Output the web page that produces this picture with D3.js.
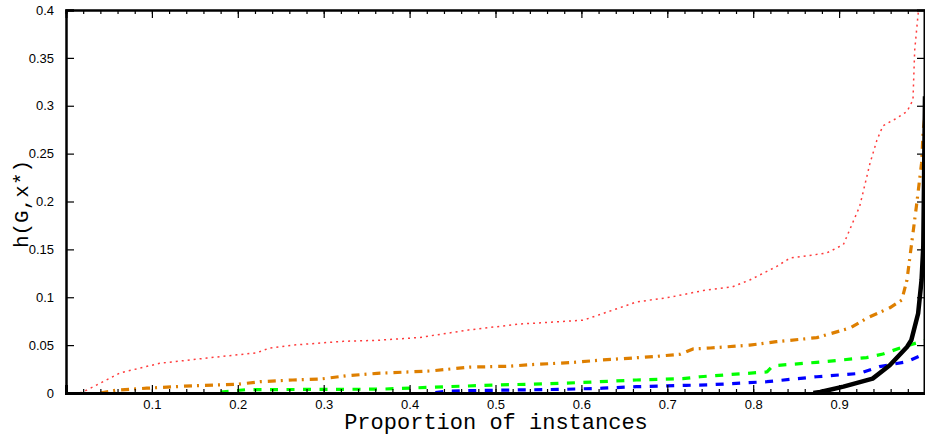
<!DOCTYPE html>
<html>
<head>
<meta charset="utf-8">
<script src="https://d3js.org/d3.v7.min.js"></script>
<style>
  body { margin: 0; background: #fff; }
  svg { display: block; }
</style>
</head>
<body>
<svg id="chart" width="925" height="438"></svg>
<script>
// values
var redX = [0.016, 0.024, 0.063, 0.109, 0.164, 0.222, 0.237, 0.264, 0.323, 0.362, 0.412, 0.470, 0.528, 0.602, 0.625, 0.664, 0.703, 0.742, 0.776, 0.796, 0.827, 0.843, 0.885, 0.905, 0.924, 0.936, 0.944, 0.951, 0.967, 0.979, 0.986, 0.988, 0.992, 0.995];
var redY = [0, 0.003, 0.021, 0.031, 0.0365, 0.042, 0.047, 0.050, 0.054, 0.055, 0.058, 0.066, 0.072, 0.076, 0.083, 0.095, 0.100, 0.107, 0.111, 0.118, 0.132, 0.141, 0.146, 0.155, 0.195, 0.240, 0.264, 0.279, 0.287, 0.294, 0.306, 0.358, 0.396, 0.42];

var orangeX = [0.04, 0.059, 0.094, 0.148, 0.199, 0.226, 0.264, 0.296, 0.327, 0.362, 0.424, 0.470, 0.517, 0.540, 0.587, 0.625, 0.684, 0.715, 0.730, 0.750, 0.796, 0.827, 0.874, 0.913, 0.932, 0.959, 0.973, 0.979, 0.984, 0.990, 0.996, 0.998, 1.0];
var orangeY = [0, 0.003, 0.005, 0.0076, 0.009, 0.0118, 0.0136, 0.0146, 0.018, 0.0205, 0.023, 0.027, 0.028, 0.0296, 0.0317, 0.0345, 0.038, 0.0405, 0.046, 0.047, 0.050, 0.0536, 0.0578, 0.068, 0.078, 0.089, 0.097, 0.118, 0.153, 0.195, 0.240, 0.275, 0.29];

var greenX = [0.18, 0.21, 0.366, 0.443, 0.501, 0.560, 0.602, 0.664, 0.718, 0.738, 0.816, 0.823, 0.874, 0.932, 0.951, 0.971, 1.0];
var greenY = [0.001, 0.0035, 0.004, 0.0066, 0.0083, 0.0097, 0.011, 0.0136, 0.015, 0.017, 0.022, 0.0285, 0.032, 0.037, 0.0407, 0.047, 0.055];

var blueX = [0.43, 0.443, 0.509, 0.579, 0.625, 0.664, 0.722, 0.750, 0.816, 0.874, 0.924, 0.947, 0.979, 1.0];
var blueY = [0.0005, 0.002, 0.003, 0.0038, 0.005, 0.0066, 0.008, 0.0086, 0.0118, 0.017, 0.0205, 0.0275, 0.0327, 0.041];

var blackX = [0.87, 0.878, 0.905, 0.939, 0.959, 0.979, 0.984, 0.992, 0.996, 0.998, 1.0];
var blackY = [0, 0.001, 0.0066, 0.015, 0.029, 0.048, 0.055, 0.083, 0.118, 0.153, 0.31];

var xTicks = [0.1, 0.2, 0.3, 0.4, 0.5, 0.6, 0.7, 0.8, 0.9];
var xMinor = d3.range(0, 51).map(function(i) { return i / 50; });
var yTicks = [0, 0.05, 0.1, 0.15, 0.2, 0.25, 0.3, 0.35, 0.4];

(function() {
var svg = d3.select("#chart");
var pLeft = 66, pRight = 925, pTop = 10, pBottom = 393;

var x = d3.scaleLinear().domain([0, 1]).range([pLeft, pRight]);
var y = d3.scaleLinear().domain([0, 0.4]).range([pBottom, pTop]);

svg.append("defs").append("clipPath").attr("id", "plotclip")
  .append("rect")
  .attr("x", pLeft).attr("y", pTop)
  .attr("width", pRight - pLeft).attr("height", pBottom - pTop);

var series = [
  {xs: redX, ys: redY, color: "#ff3b3b", width: 1.5, dash: "2,4"},
  {xs: orangeX, ys: orangeY, color: "#de7f00", width: 3.2, dash: "8,5,2,6"},
  {xs: greenX, ys: greenY, color: "#00ff00", width: 3.2, dash: "8,8.5"},
  {xs: blueX, ys: blueY, color: "#0000ff", width: 3.2, dash: "8,8.5"},
  {xs: blackX, ys: blackY, color: "#000000", width: 4.5, dash: null}
];

var line = d3.line()
  .x(function(d) { return x(d[0]); })
  .y(function(d) { return y(d[1]); });

var g = svg.append("g").attr("clip-path", "url(#plotclip)");
series.forEach(function(s) {
  var pts = s.xs.map(function(v, i) { return [v, s.ys[i]]; });
  g.append("path")
    .datum(pts)
    .attr("d", line)
    .attr("fill", "none")
    .attr("stroke", s.color)
    .attr("stroke-width", s.width)
    .attr("stroke-dasharray", s.dash)
    .attr("stroke-linejoin", "round");
});

// axes: inward ticks, matlab style
var bottomAxis = d3.axisBottom(x).tickValues(xTicks).tickSize(-8).tickPadding(7)
  .tickFormat(d3.format("~g"));
var bottomMinor = d3.axisBottom(x).tickValues(xMinor).tickSize(-4).tickFormat("");
var topAxis = d3.axisTop(x).tickValues(xTicks).tickSize(-8).tickFormat("");
var topMinor = d3.axisTop(x).tickValues(xMinor).tickSize(-4).tickFormat("");
var leftAxis = d3.axisLeft(y).tickValues(yTicks).tickSize(-8).tickPadding(12)
  .tickFormat(d3.format("~g"));
var rightAxis = d3.axisRight(y).tickValues(yTicks).tickSize(-7).tickFormat("");

function styleAxis(sel, w) {
  sel.attr("font-size", 13).attr("font-family", "'Liberation Sans', Arial, sans-serif");
  sel.select(".domain").attr("stroke", "#000").attr("stroke-width", w);
  sel.selectAll(".tick line").attr("stroke", "#000").attr("stroke-width", 1.2);
  sel.selectAll("text").attr("fill", "#000");
}

svg.append("g").attr("transform", "translate(0," + pTop + ")").call(topMinor).call(styleAxis, 2);
svg.append("g").attr("transform", "translate(0," + pTop + ")").call(topAxis).call(styleAxis, 2);
svg.append("g").attr("transform", "translate(" + (pRight - 1) + ",0)").call(rightAxis).call(styleAxis, 2);
svg.append("g").attr("transform", "translate(0," + pBottom + ")").call(bottomMinor).call(styleAxis, 3);
svg.append("g").attr("transform", "translate(0," + pBottom + ")").call(bottomAxis).call(styleAxis, 3);
svg.append("g").attr("transform", "translate(" + pLeft + ",0)").call(leftAxis).call(styleAxis, 2.5);

svg.append("text")
  .attr("x", 496)
  .attr("y", 429)
  .attr("text-anchor", "middle")
  .style("font-family", "'Liberation Mono', 'DejaVu Sans Mono', monospace")
  .style("font-size", "22px")
  .text("Proportion of instances");

svg.append("text")
  .attr("transform", "translate(28,204) rotate(-90)")
  .attr("text-anchor", "middle")
  .style("font-family", "'Liberation Mono', 'DejaVu Sans Mono', monospace")
  .style("font-size", "21px")
  .text("h(G,x*)");
})();
</script>
</body>
</html>
